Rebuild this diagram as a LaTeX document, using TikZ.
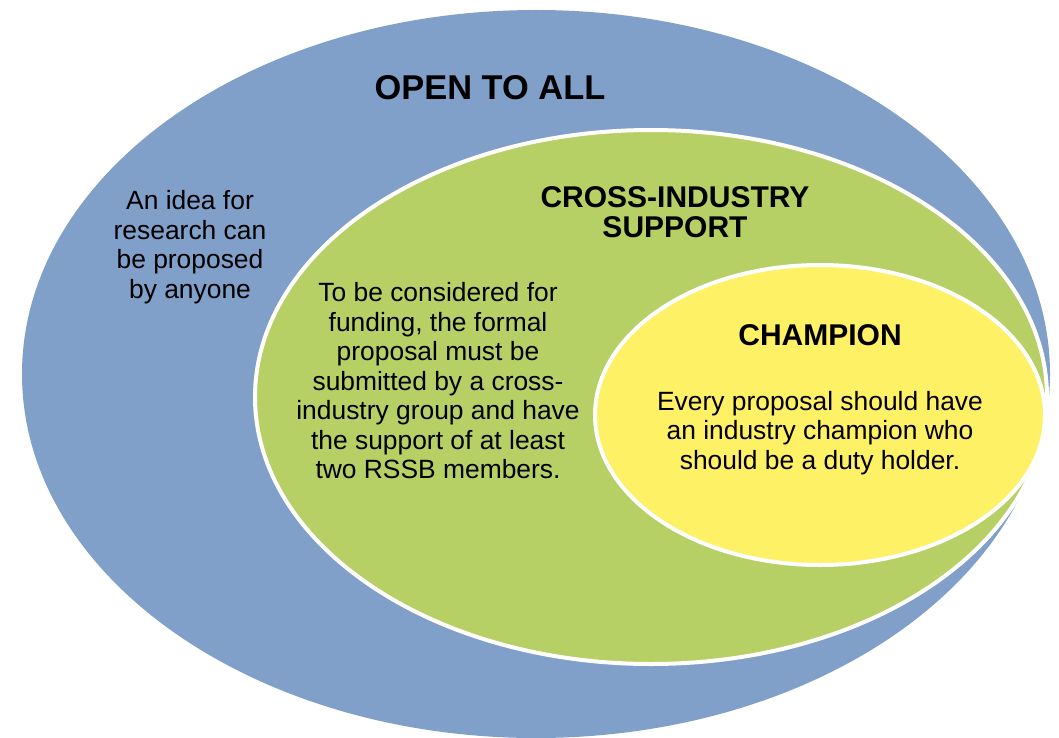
\documentclass[tikz,border=0pt]{standalone}
\usepackage{fontspec}
\setmainfont{Liberation Sans}
\usepackage{tikz}
\usetikzlibrary{shapes.geometric}
\definecolor{openblue}{RGB}{128,159,201}
\definecolor{crossgreen}{RGB}{182,208,101}
\definecolor{champyellow}{RGB}{255,241,102}
\tikzset{zone/.style = {ellipse, inner sep = 0, draw = white, line width = 2pt}}
\tikzset{heading/.style = {align = center, inner sep = 0, font = \fontsize{15}{15}\selectfont\bfseries}}
\tikzset{body/.style = {align = center, inner sep = 0, font = \fontsize{13.2}{14.75}\selectfont}}

\begin{document}
\begin{tikzpicture}[x = 0.5pt, y = -0.5pt]
    \useasboundingbox (0, 0) rectangle (1059, 738);

    \node [zone, fill = openblue, draw = none, minimum width = 514pt, minimum height = 364pt] (all) at (536, 374) {};
    \node [zone, fill = crossgreen, minimum width = 396pt, minimum height = 267pt] (cross) at (651, 397) {};
    \node [zone, fill = champyellow, minimum width = 225pt, minimum height = 150pt] (champ) at (820, 415) {};

    \node [heading, font = \fontsize{17.2}{17.2}\selectfont\bfseries, anchor = base] (alltitle) at (490, 99) {OPEN TO ALL};
    \node [body] (alltext) at (190, 247) {An idea for\\research can\\be proposed\\by anyone};

    \node [heading, anchor = north] (crosstitle) at (675, 186) {CROSS-INDUSTRY\\SUPPORT};
    \node [body] (crosstext) at (438, 381) {To be considered for\\funding, the formal\\proposal must be\\submitted by a cross-\\industry group and have\\the support of at least\\two RSSB members.};

    \node [heading, anchor = base] (champtitle) at (820, 345) {CHAMPION};
    \node [body] (champtext) at (820, 433) {Every proposal should have\\an industry champion who\\should be a duty holder.};
  \end{tikzpicture}
\end{document}
